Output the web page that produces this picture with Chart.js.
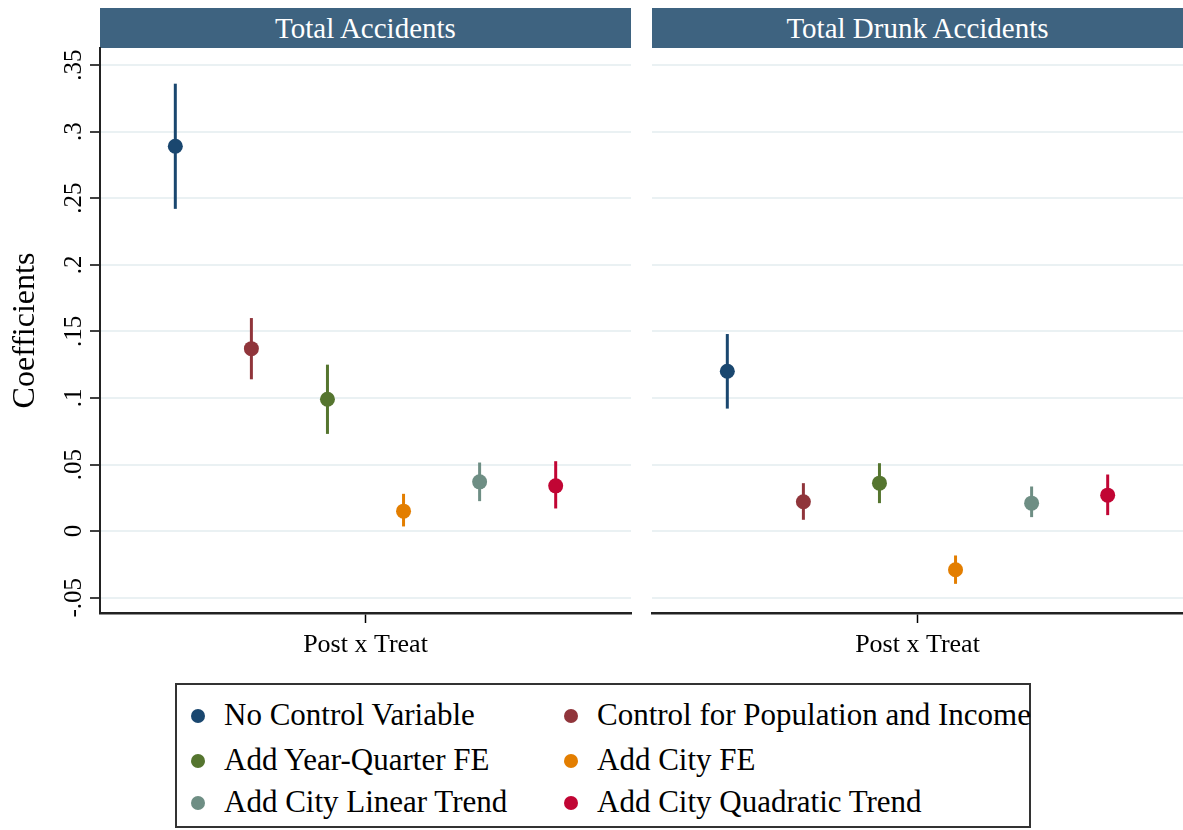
<!DOCTYPE html>
<html>
<head>
<meta charset="utf-8">
<script src="https://cdn.jsdelivr.net/npm/chart.js@4/dist/chart.umd.min.js"></script>
<style>
  body { margin: 0; background: #fff; }
  #wrap { position: relative; width: 1183px; height: 830px; overflow: hidden; font-family: "Liberation Serif", "Times New Roman", serif; }
  .strip { position: absolute; top: 8px; height: 40px; background: #3e6380; color: #fff; font-size: 29px; line-height: 40px; text-align: center; }
  canvas { position: absolute; top: 0; }
  #legend { position: absolute; left: 175px; top: 683px; width: 852px; height: 141px; border: 2px solid #333; }
  .item { position: absolute; font-size: 31px; line-height: 36px; white-space: nowrap; }
  .dot { position: absolute; width: 14px; height: 14px; border-radius: 50%; }
</style>
</head>
<body>
<div id="wrap">
  <div class="strip" id="stripL" style="left:100px;width:531px"></div>
  <div class="strip" id="stripR" style="left:652px;width:531px"></div>
  <canvas id="left" width="640" height="680" style="left:0"></canvas>
  <canvas id="right" width="543" height="680" style="left:640px"></canvas>
  <div id="legend"></div>
</div>
<script>
// panels and specifications
const panels = ["Total Accidents", "Total Drunk Accidents"];
const specs = ["No Control Variable", "Control for Population and Income", "Add Year-Quarter FE",
               "Add City FE", "Add City Linear Trend", "Add City Quadratic Trend"];
const colors = ["#1a476f", "#90353b", "#55752f", "#e37e00", "#6e8e84", "#c10534"];
const slots = [-2.5, -1.5, -0.5, 0.5, 1.5, 2.5];

// Total Accidents
const coefTotal = [0.289, 0.137, 0.099, 0.015, 0.037, 0.034];
const loTotal   = [0.242, 0.114, 0.073, 0.0035, 0.0225, 0.017];
const hiTotal   = [0.336, 0.160, 0.125, 0.028, 0.0515, 0.0525];

// Total Drunk Accidents
const coefDrunk = [0.120, 0.022, 0.036, -0.029, 0.021, 0.027];
const loDrunk   = [0.092, 0.0085, 0.021, -0.0396, 0.0105, 0.012];
const hiDrunk   = [0.148, 0.036, 0.051, -0.0183, 0.0335, 0.0425];

const yTicks = [-0.05, 0, 0.05, 0.1, 0.15, 0.2, 0.25, 0.3, 0.35];
const xLabel = "Post x Treat";

const SERIF = "'Liberation Serif', 'Times New Roman', serif";

function fmt(v) {
    // Stata style: .35, -.05, 0
    if (Math.abs(v) < 1e-9) return "0";
    let s = String(Math.round(v * 100) / 100);
    return s.replace("0.", ".");
}

function buildDatasets(coef, lo, hi) {
    const ds = [];
    for (let i = 0; i < specs.length; i++) {
        ds.push({
            type: "line",
            label: specs[i] + " CI",
            data: [{ x: slots[i], y: lo[i] }, { x: slots[i], y: hi[i] }],
            borderColor: colors[i],
            borderWidth: 3,
            pointRadius: 0,
            fill: false,
            order: 2
        });
        ds.push({
            type: "scatter",
            label: specs[i],
            data: [{ x: slots[i], y: coef[i] }],
            backgroundColor: colors[i],
            borderWidth: 0,
            pointRadius: 7.5,
            order: 1
        });
    }
    return ds;
}

// rotated y tick labels (Stata draws them vertically)
const yLabelPlugin = {
    id: "yLabels",
    afterDraw(chart, args, opts) {
        if (!opts.show) return;
        const ys = chart.scales.y;
        const ctx = chart.ctx;
        ctx.save();
        ctx.fillStyle = "#000";
        ctx.font = "25px " + SERIF;
        ctx.textAlign = "center";
        ctx.textBaseline = "alphabetic";
        yTicks.forEach(function (v) {
            const py = ys.getPixelForValue(v);
            ctx.save();
            ctx.translate(81, py);
            ctx.rotate(-Math.PI / 2);
            ctx.fillText(fmt(v), 0, 0);
            ctx.restore();
        });
        ctx.restore();
    }
};

function makeChart(id, coef, lo, hi, isLeft) {
    const ctx = document.getElementById(id).getContext("2d");
    return new Chart(ctx, {
        data: { datasets: buildDatasets(coef, lo, hi) },
        options: {
            responsive: false,
            animation: false,
            layout: { autoPadding: false, padding: { top: 48, right: isLeft ? 9 : 0, left: 0, bottom: 0 } },
            plugins: {
                legend: { display: false },
                tooltip: { enabled: false },
                yLabels: { show: isLeft }
            },
            scales: {
                x: {
                    type: "linear",
                    min: -3.49,
                    max: 3.49,
                    afterBuildTicks: function (scale) { scale.ticks = [{ value: 0 }]; },
                    afterFit: function (scale) {
                        scale.height = 67;
                        scale.paddingLeft = 0;
                        scale.paddingRight = 0;
                    },
                    ticks: {
                        callback: function () { return xLabel; },
                        font: { family: SERIF, size: 26 },
                        color: "#000",
                        padding: 7,
                        maxRotation: 0
                    },
                    grid: { drawOnChartArea: false, drawTicks: true, tickLength: 10, tickColor: "#000", tickWidth: 1.5 },
                    border: { display: true, color: "#222", width: 2.5 }
                },
                y: {
                    type: "linear",
                    min: -0.0615,
                    max: 0.3628,
                    afterBuildTicks: function (scale) { scale.ticks = yTicks.map(function (v) { return { value: v }; }); },
                    afterFit: function (scale) {
                        scale.width = isLeft ? 100 : 12;
                        scale.paddingTop = 0;
                        scale.paddingBottom = 0;
                    },
                    ticks: { display: false },
                    title: {
                        display: isLeft,
                        text: "Coefficients",
                        font: { family: SERIF, size: 32 },
                        color: "#000",
                        padding: { top: 6, bottom: 0 }
                    },
                    grid: {
                        color: "#eaf1f3",
                        lineWidth: 2,
                        drawTicks: isLeft,
                        tickLength: 10,
                        tickColor: "#000",
                        tickWidth: 1.5
                    },
                    border: { display: isLeft, color: "#222", width: 2 }
                }
            }
        },
        plugins: [yLabelPlugin]
    });
}

document.getElementById("stripL").textContent = panels[0];
document.getElementById("stripR").textContent = panels[1];

makeChart("left", coefTotal, loTotal, hiTotal, true);
makeChart("right", coefDrunk, loDrunk, hiDrunk, false);

// legend: two columns, three rows
const legend = document.getElementById("legend");
const colX = [21, 394];
const rowY = [31, 76, 118];
specs.forEach(function (name, i) {
    const c = i % 2, r = Math.floor(i / 2);
    const dot = document.createElement("div");
    dot.className = "dot";
    dot.style.background = colors[i];
    dot.style.left = (colX[c] - 7) + "px";
    dot.style.top = (rowY[r] - 7) + "px";
    legend.appendChild(dot);
    const t = document.createElement("div");
    t.className = "item";
    t.textContent = name;
    t.style.left = (colX[c] + 26) + "px";
    t.style.top = (rowY[r] - 19) + "px";
    legend.appendChild(t);
});
</script>
</body>
</html>
